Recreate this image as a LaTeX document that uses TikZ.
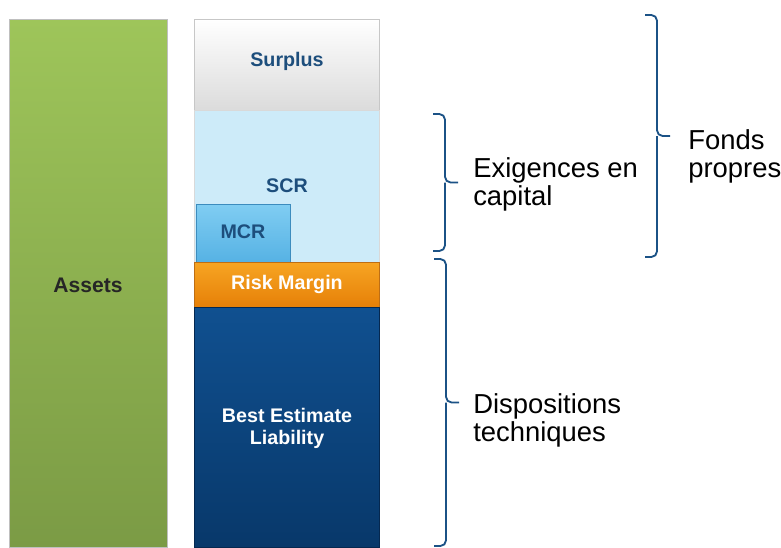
\documentclass[tikz,border=0pt]{standalone}
\usepackage{fontspec}
\setmainfont{Liberation Sans}
\definecolor{bracecol}{HTML}{1B5286}
\definecolor{labelblue}{HTML}{1D4E7C}
\tikzset{
	barlabel/.style={font=\bfseries\fontsize{14}{16}\selectfont, text=labelblue, align=center},
	sidetext/.style={font=\fontsize{19.5}{20}\selectfont, align=left, anchor=west, inner sep=0pt},
	curly/.style={draw=bracecol, line width=1.3pt, rounded corners=4pt}
}
% brace opening to the right: x, top, bottom
\def\sidebrace(#1,#2,#3){\draw[curly] (#1, #2) -- ({#1+12}, #2) -- ({#1+12}, {(#2+#3)/2}) -- ({#1+25}, {(#2+#3)/2}) ({#1+12}, {(#2+#3)/2}) -- ({#1+12}, #3) -- (#1, #3);}

\begin{document}
\begin{tikzpicture}[x=0.025cm, y=-0.025cm]
			%%%%% START %%%%%
			\useasboundingbox (0, 0) rectangle (781, 547);
			
			% assets
			\shade[top color={rgb,255:red,158;green,197;blue,90}, bottom color={rgb,255:red,123;green,155;blue,69}] (9, 19) rectangle (167, 547);
			\draw[line width=0.6pt, color=black!25] (9, 19) rectangle (167, 547);
			\node[font=\bfseries\fontsize{15}{17}\selectfont, text=black!85] (assets) at (88, 285) {Assets};
			
			% surplus
			\shade[top color=white, bottom color=black!14] (194, 19) rectangle (379, 110);
			\draw[line width=0.6pt, color=black!22] (194, 19) rectangle (379, 110);
			\node[barlabel] (surplus) at (287, 61) {Surplus};
			
			% scr and mcr
			\fill[color={rgb,255:red,205;green,235;blue,249}] (194, 110) rectangle (379, 262);
			\draw[line width=0.6pt, color=black!15] (194, 110) rectangle (379, 262);
			\node[barlabel] (scr) at (287, 186) {SCR};
			\shade[top color={rgb,255:red,128;green,205;blue,242}, bottom color={rgb,255:red,86;green,178;blue,228}] (196, 204) rectangle (290, 262);
			\draw[line width=0.6pt, color={rgb,255:red,60;green,140;blue,190}] (196, 204) rectangle (290, 262);
			\node[barlabel] (mcr) at (243, 232) {MCR};
			
			% risk margin
			\shade[top color={rgb,255:red,247;green,165;blue,35}, bottom color={rgb,255:red,230;green,128;blue,8}] (194, 262) rectangle (379, 307);
			\draw[line width=0.6pt, color={rgb,255:red,190;green,110;blue,20}] (194, 262) rectangle (379, 307);
			\node[barlabel, text=white] (rm) at (287, 284) {Risk Margin};
			
			% best estimate
			\shade[top color={rgb,255:red,16;green,80;blue,144}, bottom color={rgb,255:red,8;green,56;blue,106}] (194, 307) rectangle (379, 547);
			\draw[line width=0.6pt, color={rgb,255:red,5;green,40;blue,80}] (194, 307) rectangle (379, 547);
			\node[barlabel, text=white, font=\bfseries\fontsize{14}{15.6}\selectfont] (bel) at (287, 428) {Best Estimate\\Liability};
			
			% braces
			\sidebrace(433,114,251);
			\sidebrace(645,15,257);
			\sidebrace(434,259,546);
			
			\node[sidetext] (capital) at (473, 184) {Exigences en\\capital};
			\node[sidetext] (fonds) at (688, 156) {Fonds\\propres};
			\node[sidetext] (tech) at (473, 420) {Dispositions\\techniques};
			
			%%%%% END %%%%%
		\end{tikzpicture}
\end{document}
